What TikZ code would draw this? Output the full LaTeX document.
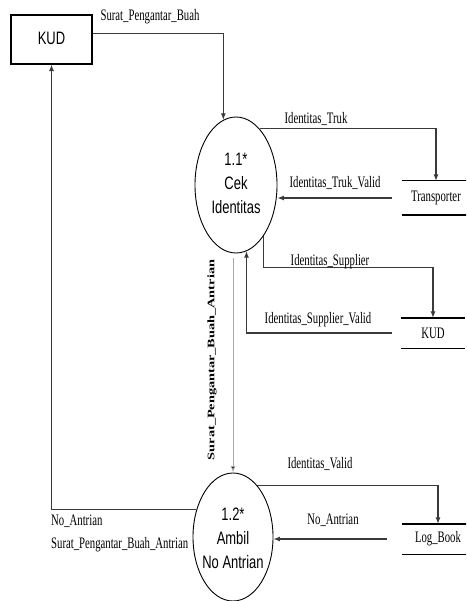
\documentclass[tikz,border=0pt]{standalone}
\usepackage{fontspec}
\setmainfont{Liberation Serif}
\setsansfont{Liberation Sans}
\usetikzlibrary{shapes.geometric,arrows.meta,calc}
\newcommand\lb[1]{\scalebox{0.67}[1]{\fontsize{16}{18}\selectfont #1}}
\newcommand\sflb[1]{\scalebox{0.72}[1]{\sffamily\fontsize{18}{24}\selectfont\begin{tabular}{@{}c@{}}#1\end{tabular}}}
\definecolor{linegray}{HTML}{3A3A3A}
\definecolor{lightline}{HTML}{A8A8A8}
\tikzset{
  flow/.style={draw=linegray, line width=1.1pt, -{Latex[length=6.5pt,width=5pt]}},
  lightflow/.style={draw=lightline, line width=0.9pt, -{Latex[length=6.5pt,width=5pt,fill=black]}},
  entbox/.style={draw, line width=1.1pt, minimum width=81pt, minimum height=49pt, inner sep=0pt},
  proc/.style={ellipse, draw, line width=0.9pt, inner sep=0pt},
  storeline/.style={draw=black, line width=1.4pt},
  store/.style={inner sep=0pt, append after command={(\tikzlastnode.north west) edge[storeline] (\tikzlastnode.north east) (\tikzlastnode.south west) edge[storeline] (\tikzlastnode.south east)}},
  lbl/.style={inner sep=0pt}
}
\begin{document}
\begin{tikzpicture}[x=1pt,y=-1pt]
\path[clip] (0,0) rectangle (466,601);
\fill[white] (0,0) rectangle (466,601);

\node[entbox] (kud) at (51.5,39.5) {\sflb{KUD}};
\node[proc, minimum width=82pt, minimum height=136pt, label={center:\sflb{1.1*\\Cek\\Identitas}}] (c1) at (236,185) {};
\node[proc, minimum width=80pt, minimum height=128pt, label={[yshift=-3pt]center:\sflb{1.2*\\Ambil\\No Antrian}}] (c2) at (233,537) {};
\node[store, minimum width=68pt, minimum height=34pt] (trans) at (436,198) {\lb{Transporter}};
\node[store, minimum width=64pt, minimum height=30pt] (kud2) at (433,333) {\lb{KUD}};
\node[store, minimum width=72pt, minimum height=30pt] (log) at (438,539) {\lb{Log\_Book}};

\draw[flow] (kud.8) -| (c1.101);
\draw[flow] (c1.67) -| (trans.north);
\draw[flow, shorten <=10pt] (trans.west) -- (trans.west -| c1.east);
\draw[flow] (c1.-62) |- ($(kud2.north)+(0,-50)$) -| (kud2.north);
\draw[flow, shorten <=9pt] (kud2.west) -| (c1.-81);
\draw[lightflow, shorten <=5pt] (c2.north |- c1.south) -- (c2.north);
\draw[flow] (c2.65) -| (log.north);
\draw[flow, shorten <=15pt] (log.west) -- (log.west -| c2.east);
\draw[flow] (c2.143) -| (kud.south);

\node[lbl] (l1) at (150,17) {\lb{Surat\_Pengantar\_Buah}};
\node[lbl] (l2) at (316,119) {\lb{Identitas\_Truk}};
\node[lbl] (l3) at (335,183) {\lb{Identitas\_Truk\_Valid}};
\node[lbl] (l4) at (330,262) {\lb{Identitas\_Supplier}};
\node[lbl] (l5) at (318,320) {\lb{Identitas\_Supplier\_Valid}};
\node[lbl] (l6) at (320,464) {\lb{Identitas\_Valid}};
\node[lbl] (l7) at (333,520) {\lb{No\_Antrian}};
\node[lbl, anchor=west] (l8) at (51,521) {\lb{No\_Antrian}};
\node[lbl, anchor=west] (l9) at (51,545) {\lb{Surat\_Pengantar\_Buah\_Antrian}};
\node[lbl] (l10) at (212,360) {\rotatebox{90}{\scalebox{1}[0.7]{\fontsize{14.3}{16}\selectfont\bfseries Surat\_Pengantar\_Buah\_Antrian}}};
\end{tikzpicture}
\end{document}
